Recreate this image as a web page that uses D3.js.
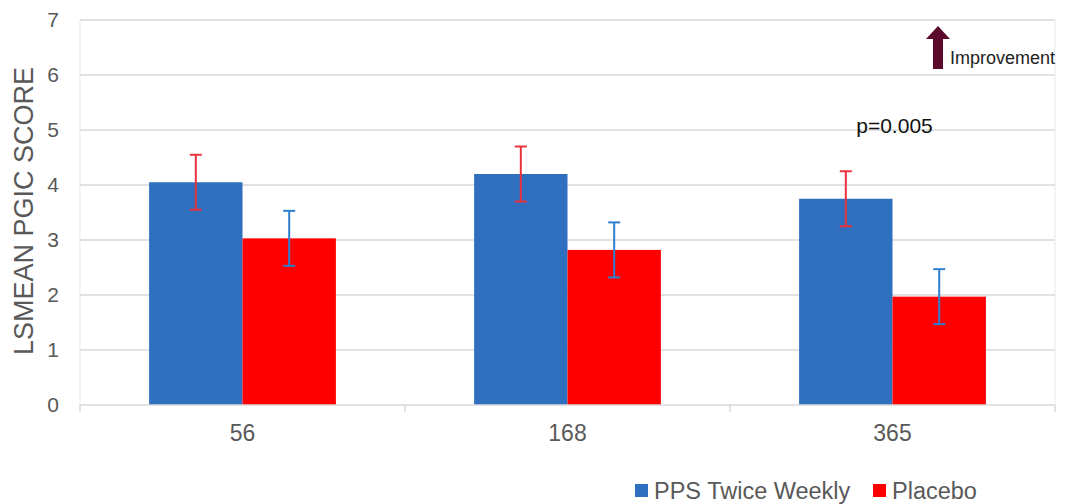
<!DOCTYPE html>
<html>
<head>
<meta charset="utf-8">
<script src="https://cdn.jsdelivr.net/npm/d3@7"></script>
<style>
  body { margin: 0; background: #fff; }
  svg { font-family: "Liberation Sans", Arial, sans-serif; }
</style>
</head>
<body>
<svg></svg>
<script>
// chart data
const days = ["56", "168", "365"];
const ppsValues = [4.05, 4.2, 3.75];
const placeboValues = [3.03, 2.82, 1.97];
const ppsErrors = [0.5, 0.5, 0.5];
const placeboErrors = [0.5, 0.5, 0.5];
const yTicks = [0, 1, 2, 3, 4, 5, 6, 7];
const seriesNames = ["PPS Twice Weekly", "Placebo"];

const width = 1070;
const height = 504;
const plotLeft = 80, plotRight = 1055, plotTop = 20, plotBottom = 405;

const blue = "#2e6fbf";
const red = "#ff0000";
const errOnBlue = "#e8323c";
const errOnRed = "#2f7fd0";
const textGray = "#595959";

const svg = d3.select("svg")
    .attr("width", width)
    .attr("height", height);

// scales
const xScale = d3.scaleBand()
    .domain(days)
    .range([plotLeft, plotRight]);

const inner = d3.scaleBand()
    .domain([0, 1])
    .range([0, xScale.bandwidth()])
    .paddingOuter(0.74);

const yScale = d3.scaleLinear()
    .domain([0, 7])
    .range([plotBottom, plotTop]);

// light frame lines on the sides
svg.append("line")
    .attr("x1", plotLeft).attr("x2", plotLeft)
    .attr("y1", plotTop).attr("y2", plotBottom)
    .attr("stroke", "#eef2f2").attr("stroke-width", 1.5);
svg.append("line")
    .attr("x1", plotRight).attr("x2", plotRight)
    .attr("y1", plotTop).attr("y2", plotBottom)
    .attr("stroke", "#eef2f2").attr("stroke-width", 1.5);

// gridlines
svg.append("g")
    .selectAll("line")
    .data(yTicks.slice(1))
    .enter()
    .append("line")
    .attr("x1", plotLeft)
    .attr("x2", plotRight)
    .attr("y1", d => yScale(d))
    .attr("y2", d => yScale(d))
    .attr("stroke", "#d9d9d9")
    .attr("stroke-width", 1.5);

// y axis labels
const yAxis = d3.axisLeft(yScale)
    .tickValues(yTicks)
    .tickFormat(d3.format("d"))
    .tickSize(0)
    .tickPadding(21);
const yG = svg.append("g")
    .attr("transform", `translate(${plotLeft},0)`)
    .call(yAxis);
yG.select(".domain").remove();
yG.selectAll("text")
    .attr("fill", textGray)
    .style("font-size", "21px");

// y axis title
svg.append("text")
    .attr("transform", `translate(33,211) rotate(-90)`)
    .attr("text-anchor", "middle")
    .attr("fill", textGray)
    .style("font-size", "27px")
    .text("LSMEAN PGIC SCORE");

// x axis
const xAxis = d3.axisBottom(xScale).tickSize(0).tickPadding(20);
const xG = svg.append("g")
    .attr("transform", `translate(0,${plotBottom})`)
    .call(xAxis);
xG.select(".domain").remove();
xG.selectAll("text")
    .attr("fill", textGray)
    .style("font-size", "23px");

// bars
const groups = svg.append("g")
    .selectAll("g")
    .data(days)
    .enter()
    .append("g")
    .attr("transform", d => `translate(${xScale(d)},0)`);

groups.append("rect")
    .attr("x", inner(0))
    .attr("width", inner.bandwidth())
    .attr("y", (d, i) => yScale(ppsValues[i]))
    .attr("height", (d, i) => plotBottom - yScale(ppsValues[i]))
    .attr("fill", blue);

groups.append("rect")
    .attr("x", inner(1))
    .attr("width", inner.bandwidth())
    .attr("y", (d, i) => yScale(placeboValues[i]))
    .attr("height", (d, i) => plotBottom - yScale(placeboValues[i]))
    .attr("fill", red);

// error bars
function errorBar(sel, idx, values, errors, color) {
    const cx = inner(idx) + inner.bandwidth() / 2;
    const g = sel.append("g").attr("stroke", color).attr("stroke-width", 2);
    g.append("line")
        .attr("x1", cx).attr("x2", cx)
        .attr("y1", (d, i) => yScale(values[i] + errors[i]))
        .attr("y2", (d, i) => yScale(values[i] - errors[i]));
    g.append("line")
        .attr("x1", cx - 6).attr("x2", cx + 6)
        .attr("y1", (d, i) => yScale(values[i] + errors[i]))
        .attr("y2", (d, i) => yScale(values[i] + errors[i]));
    g.append("line")
        .attr("x1", cx - 6).attr("x2", cx + 6)
        .attr("y1", (d, i) => yScale(values[i] - errors[i]))
        .attr("y2", (d, i) => yScale(values[i] - errors[i]));
}
errorBar(groups, 0, ppsValues, ppsErrors, errOnBlue);
errorBar(groups, 1, placeboValues, placeboErrors, errOnRed);

// x axis line and ticks (drawn over bars)
svg.append("line")
    .attr("x1", plotLeft).attr("x2", plotRight)
    .attr("y1", plotBottom).attr("y2", plotBottom)
    .attr("stroke", "#d9d9d9").attr("stroke-width", 1.5);
svg.append("g")
    .selectAll("line")
    .data(days.concat(["end"]))
    .enter()
    .append("line")
    .attr("x1", (d, i) => i < days.length ? xScale(d) : plotRight)
    .attr("x2", (d, i) => i < days.length ? xScale(d) : plotRight)
    .attr("y1", plotBottom)
    .attr("y2", plotBottom + 7)
    .attr("stroke", "#d9d9d9").attr("stroke-width", 1.5);

// p-value annotation
svg.append("text")
    .attr("x", xScale("365") + xScale.bandwidth() / 2 + 2)
    .attr("y", 133)
    .attr("text-anchor", "middle")
    .attr("fill", "#111")
    .style("font-size", "21px")
    .text("p=0.005");

// improvement arrow
const arrow = svg.append("g").attr("fill", "#5c0a2c");
arrow.append("path")
    .attr("d", "M938,26 L950,39 L943,39 L943,69 L933,69 L933,39 L926,39 Z");
svg.append("text")
    .attr("x", 950)
    .attr("y", 64)
    .attr("fill", "#222")
    .style("font-size", "18px")
    .text("Improvement");

// legend
const legend = svg.append("g");
const legendX = [635, 873];
const legendColors = [blue, red];
seriesNames.forEach((name, i) => {
    legend.append("rect")
        .attr("x", legendX[i])
        .attr("y", 484)
        .attr("width", 13)
        .attr("height", 13)
        .attr("fill", legendColors[i]);
    legend.append("text")
        .attr("x", legendX[i] + 19)
        .attr("y", 499)
        .attr("fill", textGray)
        .style("font-size", "23.5px")
        .text(name);
});
</script>
</body>
</html>
